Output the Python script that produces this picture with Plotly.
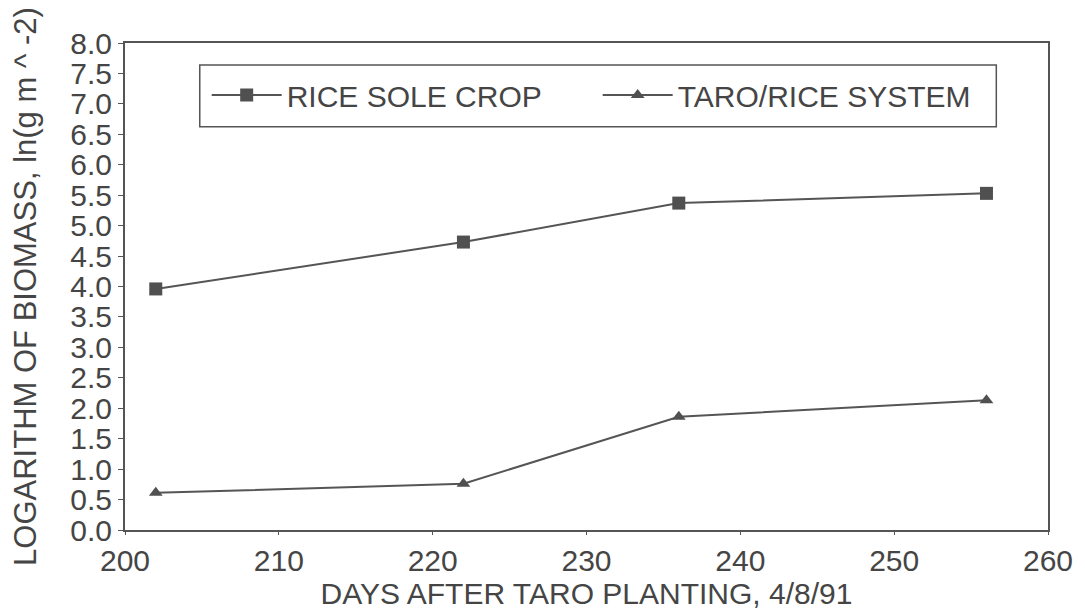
import plotly.graph_objects as go

days = [202, 222, 236, 256]
rice_sole = [3.96, 4.73, 5.37, 5.53]
taro_rice = [0.61, 0.76, 1.86, 2.13]
series_names = ["RICE SOLE CROP", "TARO/RICE SYSTEM"]
y_ticks = [i * 0.5 for i in range(17)]
x_ticks = [200, 210, 220, 230, 240, 250, 260]

FONT = "Liberation Sans, Arial, sans-serif"
TXT = "#454545"
LINE = "#555555"

fig = go.Figure()
fig.add_trace(go.Scatter(
    x=days, y=rice_sole, name=series_names[0], mode="lines+markers",
    line=dict(color=LINE, width=2),
    marker=dict(symbol="square", size=13, color="#505050"),
))
fig.add_trace(go.Scatter(
    x=days, y=taro_rice, name=series_names[1], mode="lines+markers",
    line=dict(color=LINE, width=2),
    marker=dict(symbol="triangle-up", size=12, color="#505050"),
))

# legend frame
fig.add_shape(type="rect", xref="paper", yref="paper",
              x0=0.081, x1=0.944, y0=0.828, y1=0.955,
              line=dict(color="#555555", width=1.5), fillcolor="white", layer="below")

fig.update_layout(
    width=1077, height=606,
    margin=dict(l=117, r=33, t=35, b=84),
    paper_bgcolor="white", plot_bgcolor="white",
    font=dict(family=FONT, size=30, color=TXT),
    showlegend=True,
    legend=dict(
        orientation="h", x=0.0885, y=0.893, xanchor="left", yanchor="middle",
        borderwidth=0, bgcolor="rgba(0,0,0,0)",
        font=dict(size=30, color=TXT), itemwidth=70, entrywidth=306,
    ),
)
fig.update_xaxes(
    range=[200, 260], tickvals=x_ticks, ticktext=[str(v) for v in x_ticks],
    showgrid=False, zeroline=False, showline=True, linecolor=LINE, linewidth=2,
    mirror=True, ticks="outside", ticklen=3, tickcolor=LINE,
    tickfont=dict(size=30, color=TXT),
    title=dict(text="DAYS AFTER TARO PLANTING, 4/8/91", font=dict(size=30, color=TXT), standoff=0),
)
fig.update_yaxes(
    range=[0, 8], tickvals=y_ticks, ticktext=[f"{v:.1f}" for v in y_ticks],
    showgrid=False, zeroline=False, showline=True, linecolor=LINE, linewidth=2,
    mirror=True, ticks="outside", ticklen=5, tickcolor=LINE,
    tickfont=dict(size=30, color=TXT),
    title=dict(text="LOGARITHM OF BIOMASS, ln(g m ^ -2)", font=dict(size=31, color=TXT), standoff=25),
)

fig.write_html("out.html")
